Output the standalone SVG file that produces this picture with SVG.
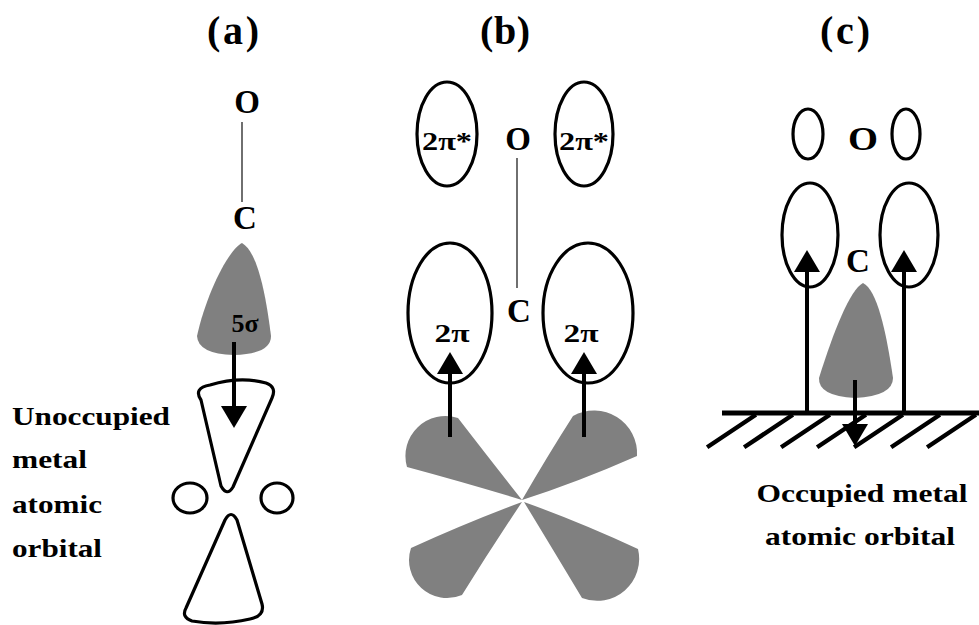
<svg xmlns="http://www.w3.org/2000/svg" width="979" height="625" viewBox="0 0 979 625">
  <style>
    .lbl { font-family: "Liberation Serif", "Times New Roman", serif; font-weight: bold; fill: #000; }
    .head { font-size: 40px; text-anchor: middle; }
    .atom { font-size: 33px; text-anchor: middle; }
    .orb { font-size: 26px; text-anchor: middle; }
    .side { font-size: 26px; }
    .outline { fill: none; stroke: #000; stroke-width: 3.2; stroke-linejoin: round; }
    .filled { fill: #808080; stroke: none; }
    .bond { stroke: #222; stroke-width: 1.3; fill: none; }
    .arrow { stroke: #000; stroke-width: 4; fill: none; marker-end: url(#head); }
    .hatch { stroke: #000; stroke-width: 4.5; stroke-linecap: square; }
  </style>
  <defs>
    <marker id="head" markerUnits="userSpaceOnUse" viewBox="0 0 22 26" markerWidth="22" markerHeight="26" refX="0" refY="13" orient="auto">
      <path d="M0,0 L22,13 L0,26 Z" fill="#000"/>
    </marker>
  </defs>

  <!-- panel titles -->
  <g id="titles">
    <text class="lbl head" x="233" y="44" textLength="52">(a)</text>
    <text class="lbl head" x="505" y="44" textLength="50">(b)</text>
    <text class="lbl head" x="845" y="44" textLength="50">(c)</text>
  </g>

  <!-- (a) sigma donation -->
  <g id="a-oxygen"><text class="lbl atom" x="247" y="113">O</text></g>
  <g id="a-carbon"><text class="lbl atom" x="245" y="229">C</text></g>
  <g id="a-5sigma">
    <path class="filled" d="M242,243 C228,250 206,295 197,336 Q198,354 234,355 Q271,354 271,336 C266,296 258,252 242,243 Z"/>
    <text class="lbl orb" x="245" y="332" font-size="24">5σ</text>
  </g>
  <g id="a-metal-orbital">
    <path class="outline" d="M201,400 Q193,388 210,385 Q240,376 266,383 Q277,387 272,398 L233,487 Q227,497 221,486 Z"/>
    <ellipse class="outline" cx="190" cy="498" rx="17" ry="15"/>
    <ellipse class="outline" cx="277" cy="498" rx="16" ry="15"/>
    <path class="outline" d="M225,520 Q231,509 237,520 L262,604 Q265,616 250,619 Q220,626 192,621 Q181,617 186,608 Z"/>
  </g>
  <g id="a-caption">
    <text class="lbl side" x="12" y="425" textLength="158" lengthAdjust="spacingAndGlyphs">Unoccupied</text>
    <text class="lbl side" x="12" y="468" textLength="75" lengthAdjust="spacingAndGlyphs">metal</text>
    <text class="lbl side" x="12" y="513" textLength="90" lengthAdjust="spacingAndGlyphs">atomic</text>
    <text class="lbl side" x="12" y="557" textLength="90" lengthAdjust="spacingAndGlyphs">orbital</text>
  </g>

  <!-- (b) pi back-donation -->
  <g id="b-oxygen"><text class="lbl atom" x="518" y="150">O</text></g>
  <g id="b-carbon"><text class="lbl atom" x="519" y="322" font-size="35">C</text></g>
  <g id="b-2pistar-left">
    <ellipse class="outline" cx="447" cy="134" rx="30" ry="52"/>
    <text class="lbl orb" x="447" y="150" textLength="50" lengthAdjust="spacingAndGlyphs">2π*</text>
  </g>
  <g id="b-2pistar-right">
    <ellipse class="outline" cx="584" cy="134" rx="29" ry="52"/>
    <text class="lbl orb" x="584" y="150" textLength="50" lengthAdjust="spacingAndGlyphs">2π*</text>
  </g>
  <g id="b-2pi-left">
    <ellipse class="outline" cx="450" cy="313" rx="42" ry="70"/>
    <text class="lbl orb" x="452" y="342" textLength="35" lengthAdjust="spacingAndGlyphs">2π</text>
  </g>
  <g id="b-2pi-right">
    <ellipse class="outline" cx="588" cy="313" rx="45" ry="70"/>
    <text class="lbl orb" x="581" y="342" textLength="35" lengthAdjust="spacingAndGlyphs">2π</text>
  </g>
  <g id="b-d-orbital">
    <path class="filled" d="M522,500 Q470,484 407,467 A40,40 0 0 1 458,418 Q492,462 522,500 Z"/>
    <path class="filled" d="M522,500 Q548,455 573,416 A43,43 0 0 1 637,456 Q578,482 522,500 Z"/>
    <path class="filled" d="M522,502 Q490,550 462,595 A38,38 0 0 1 411,548 Q468,522 522,502 Z"/>
    <path class="filled" d="M524,502 Q580,522 638,549 A42,42 0 0 1 582,598 Q552,548 524,502 Z"/>
  </g>

  <!-- (c) adsorbed CO on the surface -->
  <g id="c-oxygen"><text class="lbl atom" x="863" y="150" textLength="30" lengthAdjust="spacingAndGlyphs">O</text></g>
  <g id="c-carbon"><text class="lbl atom" x="858" y="272">C</text></g>
  <g id="c-2pistar">
    <ellipse class="outline" cx="808" cy="134" rx="15" ry="25"/>
    <ellipse class="outline" cx="906" cy="134" rx="14" ry="25"/>
  </g>
  <g id="c-2pi">
    <ellipse class="outline" cx="810" cy="235" rx="28" ry="52"/>
    <ellipse class="outline" cx="909" cy="235" rx="29" ry="52"/>
  </g>
  <g id="c-5sigma">
    <path class="filled" d="M863,283 C850,290 834,330 819,378 Q818,396 855,398 Q893,396 893,378 C886,330 877,290 863,283 Z"/>
  </g>
  <g id="c-surface">
    <line x1="722" y1="413" x2="979" y2="413" stroke="#000" stroke-width="5"/>
    <line class="hatch" x1="709" y1="446" x2="754" y2="416"/>
    <line class="hatch" x1="746" y1="446" x2="791" y2="416"/>
    <line class="hatch" x1="783" y1="446" x2="828" y2="416"/>
    <line class="hatch" x1="819" y1="446" x2="864" y2="416"/>
    <line class="hatch" x1="856" y1="446" x2="901" y2="416"/>
    <line class="hatch" x1="893" y1="446" x2="938" y2="416"/>
    <line class="hatch" x1="929" y1="446" x2="974" y2="416"/>
  </g>
  <g id="c-caption">
    <text class="lbl orb" x="862" y="502" textLength="211" lengthAdjust="spacingAndGlyphs">Occupied metal</text>
    <text class="lbl orb" x="860" y="545" textLength="190" lengthAdjust="spacingAndGlyphs">atomic orbital</text>
  </g>

  <!-- bonds and electron-transfer arrows -->
  <g id="connectors">
    <line class="bond" x1="242" y1="122" x2="242" y2="202"/>
    <line class="bond" x1="517" y1="158" x2="517" y2="288"/>
    <line class="arrow" x1="234" y1="342" x2="234" y2="406"/>
    <line class="arrow" x1="450" y1="437" x2="450" y2="374"/>
    <line class="arrow" x1="584" y1="437" x2="584" y2="374"/>
    <line class="arrow" x1="807" y1="411" x2="807" y2="272"/>
    <line class="arrow" x1="904" y1="411" x2="904" y2="272"/>
    <line class="arrow" x1="855" y1="380" x2="855" y2="424"/>
  </g>
</svg>
